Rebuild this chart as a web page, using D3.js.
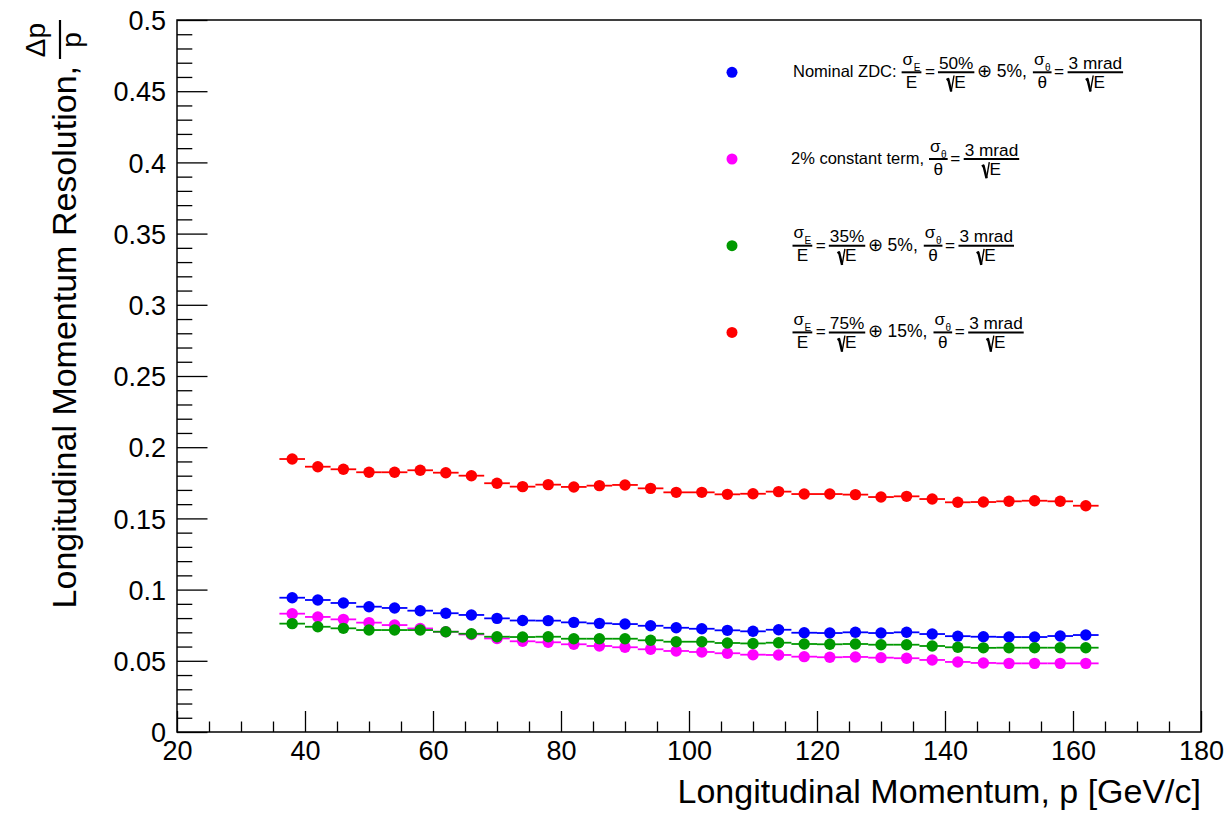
<!DOCTYPE html>
<html>
<head>
<meta charset="utf-8">
<script src="https://cdn.jsdelivr.net/npm/d3@7"></script>
<style>
  html, body { margin: 0; padding: 0; background: #fff; }
  svg { display: block; }
  text { font-family: 'Liberation Sans', Arial, Helvetica, sans-serif; fill: #000; }
</style>
</head>
<body>
<svg id="chart" width="1230" height="814"></svg>
<script>
// Bin centres of the momentum scan [GeV/c]; each bin is 4 GeV/c wide
const momentum = [38, 42, 46, 50, 54, 58, 62, 66, 70, 74, 78, 82, 86, 90, 94, 98,
                  102, 106, 110, 114, 118, 122, 126, 130, 134, 138, 142, 146, 150, 154, 158, 162];
const binHalfWidth = 2;

// Longitudinal momentum resolution Δp/p for each detector configuration
const nominalZDC = [0.0943, 0.0927, 0.0906, 0.0880, 0.0871, 0.0852, 0.0834, 0.0822, 0.0798, 0.0783,
                    0.0782, 0.0770, 0.0763, 0.0758, 0.0746, 0.0732, 0.0725, 0.0714, 0.0707, 0.0718,
                    0.0697, 0.0695, 0.0700, 0.0695, 0.0700, 0.0688, 0.0673, 0.0669, 0.0667, 0.0667,
                    0.0674, 0.0681];
const constantTerm2 = [0.0831, 0.0808, 0.0791, 0.0768, 0.0751, 0.0727, 0.0704, 0.0685, 0.0657, 0.0637,
                       0.0630, 0.0616, 0.0604, 0.0595, 0.0581, 0.0569, 0.0562, 0.0553, 0.0543, 0.0541,
                       0.0529, 0.0525, 0.0527, 0.0522, 0.0518, 0.0506, 0.0492, 0.0485, 0.0482, 0.0482,
                       0.0482, 0.0482];
const stoch35 = [0.0761, 0.0739, 0.0728, 0.0716, 0.0716, 0.0716, 0.0704, 0.0690, 0.0669, 0.0667,
                 0.0669, 0.0655, 0.0655, 0.0655, 0.0644, 0.0634, 0.0634, 0.0625, 0.0622, 0.0627,
                 0.0618, 0.0616, 0.0618, 0.0613, 0.0613, 0.0604, 0.0595, 0.0591, 0.0592, 0.0592,
                 0.0592, 0.0592];
const stoch75 = [0.1917, 0.1863, 0.1845, 0.1824, 0.1824, 0.1838, 0.1821, 0.1800, 0.1747, 0.1723,
                 0.1737, 0.1721, 0.1730, 0.1735, 0.1711, 0.1683, 0.1683, 0.1669, 0.1673, 0.1688,
                 0.1671, 0.1671, 0.1667, 0.1650, 0.1655, 0.1636, 0.1613, 0.1615, 0.1620, 0.1624,
                 0.1620, 0.1589];

// Axis ticks
const xMajorTicks = [20, 40, 60, 80, 100, 120, 140, 160, 180];
const xMinorTicks = d3.range(25, 180, 5).filter(v => v % 20 !== 0);
const yMajorTicks = [0, 0.05, 0.1, 0.15, 0.2, 0.25, 0.3, 0.35, 0.4, 0.45, 0.5];
const yTickLabels = ["0", "0.05", "0.1", "0.15", "0.2", "0.25", "0.3", "0.35", "0.4", "0.45", "0.5"];
const yMinorTicks = d3.range(1, 50).filter(i => i % 5 !== 0).map(i => i / 100);

const xTitle = "Longitudinal Momentum, p [GeV/c]";
const yTitle = "Longitudinal Momentum Resolution,";

const series = [
  { name: "nominal", values: nominalZDC, color: "#0000ff" },
  { name: "const2", values: constantTerm2, color: "#ff00ff" },
  { name: "stoch35", values: stoch35, color: "#009900" },
  { name: "stoch75", values: stoch75, color: "#ff0000" }
];

const svg = d3.select("#chart");
const frame = { left: 177, right: 1201, top: 20, bottom: 732 };

const x = d3.scaleLinear().domain([20, 180]).range([frame.left, frame.right]);
const y = d3.scaleLinear().domain([0, 0.5]).range([frame.bottom, frame.top]);

// ---- axes (ticks drawn inward, ROOT style) ----
const xMajorLen = 21, xMinorLen = 10.5, yMajorLen = 30.5, yMinorLen = 15.3;

const gx = svg.append("g").attr("transform", `translate(0,${frame.bottom})`)
  .call(d3.axisBottom(x).tickValues(xMajorTicks).tickSize(-xMajorLen).tickPadding(9).tickFormat(d3.format("d")));
gx.selectAll("text").attr("font-size", 27).attr("font-family", null).attr("fill", "#000");
const gxm = svg.append("g").attr("transform", `translate(0,${frame.bottom})`)
  .call(d3.axisBottom(x).tickValues(xMinorTicks).tickSize(-xMinorLen).tickFormat(""));

const gy = svg.append("g").attr("transform", `translate(${frame.left},0)`)
  .call(d3.axisLeft(y).tickValues(yMajorTicks).tickSize(-yMajorLen).tickPadding(11)
        .tickFormat((d, i) => yTickLabels[i]));
gy.selectAll("text").attr("font-size", 27).attr("font-family", null).attr("fill", "#000").attr("dy", "0.36em");
const gym = svg.append("g").attr("transform", `translate(${frame.left},0)`)
  .call(d3.axisLeft(y).tickValues(yMinorTicks).tickSize(-yMinorLen).tickFormat(""));

[gx, gxm, gy, gym].forEach(g => {
  g.select(".domain").remove();
  g.selectAll(".tick line").attr("stroke", "#000").attr("stroke-width", 1.3);
});

// frame box
svg.append("rect")
  .attr("x", frame.left).attr("y", frame.top)
  .attr("width", frame.right - frame.left).attr("height", frame.bottom - frame.top)
  .attr("fill", "none").attr("stroke", "#000").attr("stroke-width", 1.5);

// ---- axis titles ----
svg.append("text")
  .attr("x", frame.right).attr("y", 803)
  .attr("text-anchor", "end").attr("font-size", 34)
  .text(xTitle);

const yt = svg.append("g").attr("transform", "translate(76,20) rotate(-90)");
yt.append("text").attr("x", -46).attr("y", 0).attr("text-anchor", "end").attr("font-size", 34).text(yTitle);
yt.append("line").attr("x1", -39).attr("x2", 0).attr("y1", -16).attr("y2", -16)
  .attr("stroke", "#000").attr("stroke-width", 2.2);
yt.append("text").attr("x", -20).attr("y", -31).attr("text-anchor", "middle").attr("font-size", 28).text("Δp");
yt.append("text").attr("x", -20).attr("y", 4.8).attr("text-anchor", "middle").attr("font-size", 28).text("p");

// ---- data: horizontal bin-width error bars with filled circle markers ----
series.forEach(s => {
  const g = svg.append("g");
  const pts = momentum.map((m, i) => ({ m, v: s.values[i] }));
  g.selectAll("line.err").data(pts).join("line")
    .attr("class", "err")
    .attr("x1", d => x(d.m - binHalfWidth)).attr("x2", d => x(d.m + binHalfWidth))
    .attr("y1", d => y(d.v)).attr("y2", d => y(d.v))
    .attr("stroke", s.color).attr("stroke-width", 1.8);
  g.selectAll("circle").data(pts).join("circle")
    .attr("cx", d => x(d.m)).attr("cy", d => y(d.v)).attr("r", 5.7)
    .attr("fill", s.color);
});

// ---- legend with small formula layout (fractions, subscripts, radicals) ----
const MAIN = 16.5, BASE = 17.2, SUBSZ = 10;

function T(str, size = BASE) {
  return g => {
    const t = g.append("text").attr("x", 0).attr("y", 0).attr("font-size", size)
      .attr("xml:space", "preserve").style("white-space", "pre").text(str);
    return t.node().getComputedTextLength();
  };
}
function GAP(w) { return () => w; }
function SUB(base, s) {
  return g => {
    const w1 = T(base)(g);
    const sg = g.append("g").attr("transform", `translate(${w1 + 0.5},6)`);
    const w2 = T(s, SUBSZ)(sg);
    return w1 + 0.5 + w2;
  };
}
function SQ(body) {
  return g => {
    g.append("path").attr("d", "M0,-8 L1.6,-9 L4.6,3.6").attr("fill", "none")
      .attr("stroke", "#000").attr("stroke-width", 2.4).attr("stroke-linejoin", "round");
    g.append("path").attr("d", "M4.6,3.6 L7.4,-12.4").attr("fill", "none")
      .attr("stroke", "#000").attr("stroke-width", 1.4);
    const bg = g.append("g").attr("transform", "translate(7.6,0)");
    return 7.6 + row(bg, body);
  };
}
function row(g, items) {
  let cx = 0;
  items.forEach(it => {
    const ig = g.append("g").attr("transform", `translate(${cx},0)`);
    cx += it(ig);
  });
  return cx;
}
// fraction: y = 0 is the fraction bar
function FR(num, den, numDy = -3.4, denDy = 15.6) {
  return g => {
    const ng = g.append("g"), dg = g.append("g");
    const wn = row(ng, num), wd = row(dg, den);
    const w = Math.max(wn, wd) + 2;
    ng.attr("transform", `translate(${(w - wn) / 2},${numDy})`);
    dg.attr("transform", `translate(${(w - wd) / 2},${denDy})`);
    g.append("line").attr("x1", 0).attr("x2", w).attr("y1", 0).attr("y2", 0)
      .attr("stroke", "#000").attr("stroke-width", 2);
    return w;
  };
}
// text on the main line sits 5px below the fraction bar
function M(str, size = MAIN) {
  return g => T(str, size)(g.append("g").attr("transform", "translate(0,5)"));
}

const sigmaE = FR([SUB("σ", "E")], [T("E")], -7.5);
const sigmaTheta = FR([SUB("σ", "θ")], [T("θ")], -7.5);
const angular = [sigmaTheta, GAP(2.5), M("=", BASE), GAP(3.5), FR([T("3 mrad")], [SQ([T("E")])])];
const stochastic = (pct, constTerm) =>
  [sigmaE, GAP(3.5), M("=", BASE), GAP(3), FR([T(pct)], [SQ([T("E")])]), GAP(2.5),
   M(`⊕ ${constTerm},`, 17.5), GAP(6), ...angular];

const legendEntries = [
  { color: "#0000ff", x: 793, items: [M("Nominal ZDC:"), GAP(5), ...stochastic("50%", "5%")] },
  { color: "#ff00ff", x: 791, items: [M("2% constant term,"), GAP(5), ...angular] },
  { color: "#009900", x: 792.5, items: stochastic("35%", "5%") },
  { color: "#ff0000", x: 792.5, items: stochastic("75%", "15%") }
];
const legendY = [72.3, 159, 245.7, 332.4];

legendEntries.forEach((e, i) => {
  svg.append("circle").attr("cx", 732).attr("cy", legendY[i]).attr("r", 5.5).attr("fill", e.color);
  const g = svg.append("g").attr("transform", `translate(${e.x},${legendY[i]})`);
  row(g, e.items);
});
</script>
</body>
</html>
